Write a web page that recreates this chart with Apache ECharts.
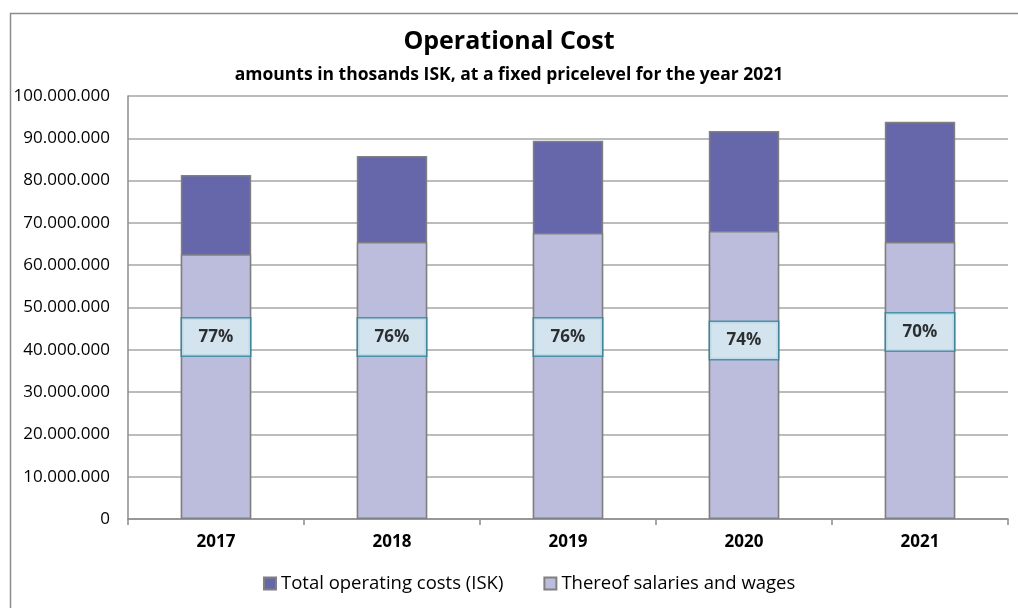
<!DOCTYPE html>
<html>
<head>
<meta charset="utf-8">
<script src="https://cdn.jsdelivr.net/npm/echarts@6/dist/echarts.min.js"></script>
<style>
  html, body { margin: 0; padding: 0; background: #fff; }
  #chart { width: 1018px; height: 608px; }
</style>
</head>
<body>
<div id="chart"></div>
<script>
// values
var years = ['2017', '2018', '2019', '2020', '2021'];
var totalCosts = [81300000, 85800000, 89400000, 91700000, 93900000];
var salaries = [62600000, 65500000, 67600000, 68100000, 65500000];
var shareLabels = ['77%', '76%', '76%', '74%', '70%'];
var shareLabelLevel = [43000000, 43000000, 43000000, 42200000, 44200000];
var yTicks = { min: 0, max: 100000000, interval: 10000000 };

var font = '"Open Sans", "Liberation Sans", sans-serif';

function dots(v) {
  return String(v).replace(/\B(?=(\d{3})+(?!\d))/g, '.');
}

var chart = echarts.init(document.getElementById('chart'));

var option = {
  animation: false,
  textStyle: { fontFamily: font },
  graphic: [{
    type: 'rect',
    shape: { x: 10.5, y: 13.5, width: 1100, height: 700 },
    style: { fill: 'none', stroke: '#8c8c8c', lineWidth: 1.5 },
    silent: true
  }],
  title: [
    {
      text: 'Operational Cost',
      left: 'center',
      top: 24,
      textStyle: { fontFamily: font, fontSize: 25, fontWeight: 'bold', color: '#000' }
    },
    {
      text: 'amounts in thosands ISK, at a fixed pricelevel for the year 2021',
      left: 'center',
      top: 61,
      textStyle: { fontFamily: font, fontSize: 17.5, fontWeight: 'bold', color: '#000' }
    }
  ],
  legend: {
    data: ['Total operating costs (ISK)', 'Thereof salaries and wages'],
    bottom: 10,
    left: 258,
    itemWidth: 12,
    itemHeight: 12,
    itemGap: 40,
    icon: 'rect',
    textStyle: { fontFamily: font, fontSize: 18.5, color: '#000' }
  },
  grid: { left: 128, right: 10, top: 96, bottom: 89 },
  xAxis: {
    type: 'category',
    data: years,
    axisLine: { lineStyle: { color: '#8c8c8c', width: 1.5 } },
    axisTick: { show: true, length: 6, lineStyle: { color: '#8c8c8c', width: 1.5 } },
    axisLabel: { fontFamily: font, fontSize: 17, fontWeight: 'bold', color: '#000', margin: 15 }
  },
  yAxis: {
    type: 'value',
    min: yTicks.min,
    max: yTicks.max,
    interval: yTicks.interval,
    axisLine: { show: true, lineStyle: { color: '#8c8c8c', width: 1.5 } },
    axisTick: { show: false },
    splitLine: { lineStyle: { color: '#a6a6a6', width: 1.5 } },
    axisLabel: { fontFamily: font, fontSize: 17, color: '#000', margin: 18, formatter: dots }
  },
  series: [
    {
      name: 'Total operating costs (ISK)',
      type: 'bar',
      data: totalCosts,
      barWidth: '40%',
      itemStyle: { color: '#6667ab', borderColor: '#808080', borderWidth: 1.5 }
    },
    {
      name: 'Thereof salaries and wages',
      type: 'bar',
      data: salaries,
      barWidth: '40%',
      barGap: '-100%',
      itemStyle: { color: '#bcbcdc', borderColor: '#808080', borderWidth: 1.5 }
    },
    {
      name: 'share',
      type: 'scatter',
      symbolSize: 0,
      silent: true,
      z: 5,
      data: shareLabelLevel.map(function (v, i) { return [i, v, shareLabels[i]]; }),
      label: {
        show: true,
        position: 'inside',
        formatter: function (p) { return p.data[2]; },
        fontFamily: font,
        fontSize: 17,
        fontWeight: 'bold',
        color: '#000',
        backgroundColor: '#daeef3',
        borderColor: '#31859c',
        borderWidth: 1.5,
        width: 68,
        height: 37,
        lineHeight: 37,
        align: 'center',
        verticalAlign: 'middle',
        padding: 0
      }
    }
  ]
};

chart.setOption(option);
</script>
</body>
</html>
